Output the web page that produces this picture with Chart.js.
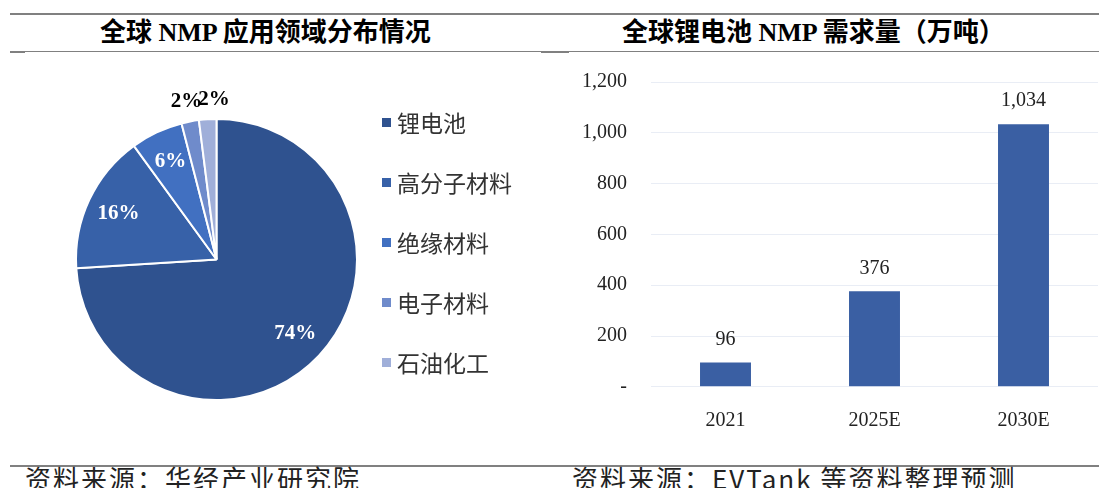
<!DOCTYPE html>
<html>
<head>
<meta charset="utf-8">
<script src="https://cdn.jsdelivr.net/npm/chart.js@4.4.1/dist/chart.umd.min.js"></script>
<style>
  body { margin: 0; width: 1099px; height: 488px; background: #fff; position: relative; overflow: hidden; }
  .line { position: absolute; background: #808080; }
  .title { position: absolute; top: 18px; font: bold 26px "Liberation Serif", "Noto Sans CJK SC"; color: #000; white-space: nowrap; line-height: 30px; }
  .src { position: absolute; top: 464px; font: 26px "Noto Sans CJK SC"; color: #222; white-space: nowrap; line-height: 28px; letter-spacing: 2px; }
  canvas { position: absolute; }
</style>
</head>
<body>
<div class="line" style="left:10px;top:13px;width:1089px;height:2px"></div>
<div class="line" style="left:10px;top:51px;width:1089px;height:1px"></div>
<div class="line" style="left:10px;top:51px;width:15px;height:2px"></div>
<div class="line" style="left:541px;top:51px;width:28px;height:2px"></div>
<div class="title" style="left:100px">全球 NMP 应用领域分布情况</div>
<div class="title" style="left:622px">全球锂电池 NMP 需求量（万吨）</div>

<canvas id="pie" width="540" height="380" style="left:0;top:60px"></canvas>
<canvas id="bar" width="554" height="380" style="left:545px;top:46px"></canvas>

<div class="line" style="left:10px;top:465px;width:1089px;height:2px"></div>
<div class="src" style="left:25px">资料来源：华经产业研究院</div>
<div class="src" style="left:572px">资料来源：EVTank 等资料整理预测</div>

<script>
// pie: NMP application share (%)
const pieLabels = ['锂电池', '高分子材料', '绝缘材料', '电子材料', '石油化工'];
const pieValues = [74, 16, 6, 2, 2];
const pieColors = ['#2F528F', '#3761A8', '#4170C1', '#6F8BCB', '#A0AFD9'];

// bar: lithium battery NMP demand (10k tons)
const barYears = ['2021', '2025E', '2030E'];
const barValues = [96, 376, 1034];
const yTicks = [0, 200, 400, 600, 800, 1000, 1200];

const fmt = v => v.toLocaleString('en-US');

// percent labels + legend on the right
const pieText = {
  id: 'pieText',
  afterDatasetsDraw(chart) {
    const ctx = chart.ctx;
    const meta = chart.getDatasetMeta(0);
    const data = chart.data.datasets[0].data;
    ctx.save();
    ctx.font = 'bold 21px "Liberation Serif"';
    ctx.textAlign = 'center';
    ctx.textBaseline = 'middle';
    let prevRight = null;
    meta.data.forEach((arc, i) => {
      const v = data[i];
      const txt = v + '%';
      const mid = (arc.startAngle + arc.endAngle) / 2;
      const inside = v >= 5;
      const r = inside ? arc.outerRadius * 0.77 : arc.outerRadius + 20;
      let x = arc.x + Math.cos(mid) * r;
      const y = arc.y + Math.sin(mid) * r;
      if (!inside) {
        // small outside labels: push apart a bit when they pile up
        const w = ctx.measureText(txt).width;
        if (prevRight !== null && x - w / 2 < prevRight - 4) x = prevRight - 4 + w / 2;
        prevRight = x + w / 2;
      }
      ctx.fillStyle = inside ? '#fff' : '#000';
      ctx.fillText(txt, x, y);
    });

    ctx.textAlign = 'left';
    ctx.font = '23px "Noto Sans CJK SC"';
    chart.data.labels.forEach((lab, i) => {
      const y = 62.5 + i * 60;
      ctx.fillStyle = chart.data.datasets[0].backgroundColor[i];
      ctx.fillRect(382, y - 4.5, 9, 9);
      ctx.fillStyle = '#333';
      ctx.fillText(lab, 397, y + 1);
    });
    ctx.restore();
  }
};

new Chart(document.getElementById('pie'), {
  type: 'pie',
  data: {
    labels: pieLabels,
    datasets: [{
      data: pieValues,
      backgroundColor: pieColors,
      borderColor: '#fff',
      borderWidth: 2
    }]
  },
  options: {
    responsive: false,
    animation: false,
    layout: { padding: { left: 75, top: 58, right: 182, bottom: 39 } },
    plugins: { legend: { display: false }, tooltip: { enabled: false } }
  },
  plugins: [pieText]
});

// value labels above the bars
const barText = {
  id: 'barText',
  afterDatasetsDraw(chart) {
    const ctx = chart.ctx;
    const meta = chart.getDatasetMeta(0);
    const data = chart.data.datasets[0].data;
    ctx.save();
    ctx.font = '20px "Liberation Serif"';
    ctx.fillStyle = '#222';
    ctx.textAlign = 'center';
    ctx.textBaseline = 'middle';
    meta.data.forEach((b, i) => ctx.fillText(fmt(data[i]), b.x, b.y - 23));
    ctx.restore();
  }
};

new Chart(document.getElementById('bar'), {
  type: 'bar',
  data: {
    labels: barYears,
    datasets: [{
      data: barValues,
      backgroundColor: '#3A5FA3',
      barPercentage: 0.342,
      categoryPercentage: 1
    }]
  },
  options: {
    responsive: false,
    animation: false,
    layout: { padding: { top: 0, right: 1, bottom: 0, left: 0 } },
    plugins: { legend: { display: false }, tooltip: { enabled: false } },
    scales: {
      x: {
        grid: { display: false },
        border: { display: false },
        ticks: { font: { family: 'Liberation Serif', size: 20 }, color: '#222', padding: 13.5 },
        afterFit(s) { s.height = 39.2; }
      },
      y: {
        min: 0,
        max: 1200,
        afterBuildTicks(s) { s.ticks = yTicks.map(v => ({ value: v })); },
        grid: { color: '#E9EDF5', drawTicks: false },
        border: { display: false },
        ticks: {
          font: { family: 'Liberation Serif', size: 20 },
          color: '#222',
          padding: 24,
          callback: v => v === 0 ? '-' : fmt(v)
        },
        afterFit(s) { s.width = 106; }
      }
    }
  },
  plugins: [barText]
});
</script>
</body>
</html>
